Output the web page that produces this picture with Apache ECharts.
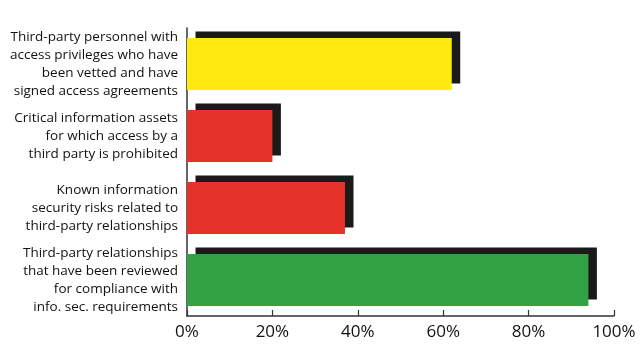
<!DOCTYPE html>
<html lang="en">
<head>
    <meta charset="UTF-8">
    <title>Third-party security</title>
    <script src="https://cdn.jsdelivr.net/npm/echarts@6/dist/echarts.min.js"></script>
    <style>
        html, body { margin: 0; padding: 0; background: #fff; }
    </style>
</head>
<body>
    <div id="main" style="width:640px;height:354px;"></div>
    <script>
        // categories, top to bottom
        var categories = [
            'Third-party personnel with\naccess privileges who have\nbeen vetted and have\nsigned access agreements',
            'Critical information assets\nfor which access by a\nthird party is prohibited',
            'Known information\nsecurity risks related to\nthird-party relationships',
            'Third-party relationships\nthat have been reviewed\nfor compliance with\ninfo. sec. requirements'
        ];
        var values = [62, 20, 37, 94];
        var barColors = ['#ffea10', '#e5332a', '#e5332a', '#33a244'];
        var tickLabels = ['0%', '20%', '40%', '60%', '80%', '100%'];

        var myChart = echarts.init(document.getElementById('main'));

        var barData = values.map(function (v, i) {
            return { value: v, itemStyle: { color: barColors[i] } };
        });

        myChart.setOption({
            animation: false,
            grid: { left: 187, right: 26, top: 28, bottom: 38 },
            xAxis: {
                type: 'value',
                min: 0,
                max: 100,
                interval: 20,
                axisLine: { show: true, lineStyle: { color: '#333', width: 1.5 } },
                axisTick: { show: true, inside: true, length: 6, lineStyle: { color: '#333', width: 1.2 } },
                splitLine: { show: false },
                axisLabel: {
                    margin: 8,
                    fontFamily: 'Open Sans',
                    fontSize: 17,
                    color: '#111',
                    formatter: function (v) { return tickLabels[v / 20]; }
                }
            },
            yAxis: {
                type: 'category',
                inverse: true,
                data: categories,
                axisLine: { show: true, lineStyle: { color: '#333', width: 1.5 } },
                axisTick: { show: false },
                axisLabel: {
                    margin: 9,
                    align: 'right',
                    fontFamily: 'Open Sans',
                    fontSize: 13.5,
                    lineHeight: 18,
                    color: '#111'
                }
            },
            series: [{
                type: 'bar',
                barWidth: 52,
                data: barData,
                itemStyle: {
                    borderWidth: 0,
                    shadowColor: '#1a1a1a',
                    shadowBlur: 0,
                    shadowOffsetX: 8.5,
                    shadowOffsetY: -6.5
                }
            }]
        });
    </script>
</body>
</html>
